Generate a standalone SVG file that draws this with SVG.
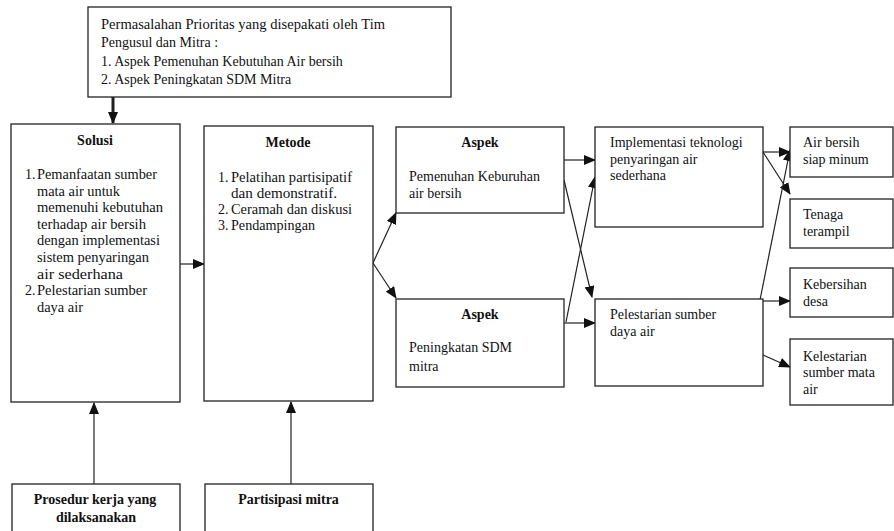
<svg xmlns="http://www.w3.org/2000/svg" width="894" height="531" viewBox="0 0 894 531">
<defs>
<style>
.box{fill:#fff;stroke:#222;stroke-width:1.3}
text{font-family:'Liberation Serif','DejaVu Serif',serif;font-size:14px;fill:#111}
.b{font-weight:bold}
.c{text-anchor:middle}
.ln{stroke:#222;stroke-width:1.2;fill:none}
</style>
<marker id="ah" markerUnits="userSpaceOnUse" markerWidth="12" markerHeight="10" refX="11" refY="5" orient="auto">
<path d="M0,0 L12,5 L0,10 Z" fill="#111"/>
</marker>
</defs>
<rect width="894" height="531" fill="#fff"/>

<g id="connectors">
<line class="ln" x1="113" y1="97" x2="113" y2="123" style="stroke-width:3" marker-end="url(#ah)"/>
<line class="ln" x1="180" y1="264" x2="204" y2="264" marker-end="url(#ah)"/>
<line class="ln" x1="373" y1="263" x2="396" y2="213" marker-end="url(#ah)"/>
<line class="ln" x1="373" y1="263" x2="396" y2="298" marker-end="url(#ah)"/>
<line class="ln" x1="564" y1="160" x2="595" y2="160" marker-end="url(#ah)"/>
<line class="ln" x1="564" y1="180" x2="592" y2="297" marker-end="url(#ah)"/>
<line class="ln" x1="566" y1="322" x2="595" y2="177" marker-end="url(#ah)"/>
<line class="ln" x1="564" y1="323" x2="595" y2="323" marker-end="url(#ah)"/>
<line class="ln" x1="763" y1="152" x2="790" y2="152" marker-end="url(#ah)"/>
<line class="ln" x1="763" y1="152" x2="790" y2="194" marker-end="url(#ah)"/>
<line class="ln" x1="760" y1="300" x2="790" y2="150" marker-end="url(#ah)"/>
<line class="ln" x1="763" y1="301" x2="790" y2="301" marker-end="url(#ah)"/>
<line class="ln" x1="763" y1="355" x2="790" y2="367" marker-end="url(#ah)"/>
<line class="ln" x1="94" y1="484" x2="94" y2="403" marker-end="url(#ah)"/>
<line class="ln" x1="291" y1="484" x2="291" y2="402" marker-end="url(#ah)"/>
</g>

<g id="masalah">
<rect class="box" x="88" y="7" width="363" height="90"/>
<text x="101" y="29" textLength="284" lengthAdjust="spacingAndGlyphs">Permasalahan Prioritas yang disepakati oleh Tim</text>
<text x="101" y="47">Pengusul dan Mitra :</text>
<text x="101" y="66">1. Aspek Pemenuhan Kebutuhan Air bersih</text>
<text x="101" y="84">2. Aspek Peningkatan SDM Mitra</text>
</g>

<g id="solusi">
<rect class="box" x="11" y="124" width="169" height="278"/>
<text class="b c" x="95" y="145">Solusi</text>
<text x="25" y="179">1.</text>
<text x="37" y="179" textLength="120" lengthAdjust="spacingAndGlyphs">Pemanfaatan sumber</text>
<text x="37" y="195.6" textLength="83" lengthAdjust="spacingAndGlyphs">mata air untuk</text>
<text x="37" y="212.2" textLength="126" lengthAdjust="spacingAndGlyphs">memenuhi kebutuhan</text>
<text x="37" y="228.8" textLength="109" lengthAdjust="spacingAndGlyphs">terhadap air bersih</text>
<text x="37" y="245.4" textLength="123" lengthAdjust="spacingAndGlyphs">dengan implementasi</text>
<text x="37" y="262" textLength="112" lengthAdjust="spacingAndGlyphs">sistem penyaringan</text>
<text x="37" y="278.6" textLength="86" lengthAdjust="spacingAndGlyphs">air sederhana</text>
<text x="25" y="295.2">2.</text>
<text x="37" y="295.2" textLength="110" lengthAdjust="spacingAndGlyphs">Pelestarian sumber</text>
<text x="37" y="311.8" textLength="46" lengthAdjust="spacingAndGlyphs">daya air</text>
</g>

<g id="metode">
<rect class="box" x="204" y="126" width="169" height="275"/>
<text class="b c" x="288" y="147">Metode</text>
<text x="218" y="182">1.</text>
<text x="231" y="182" textLength="121" lengthAdjust="spacingAndGlyphs">Pelatihan partisipatif</text>
<text x="231" y="198" textLength="106" lengthAdjust="spacingAndGlyphs">dan demonstratif.</text>
<text x="218" y="214">2.</text>
<text x="231" y="214" textLength="121" lengthAdjust="spacingAndGlyphs">Ceramah dan diskusi</text>
<text x="218" y="230">3.</text>
<text x="231" y="230" textLength="84" lengthAdjust="spacingAndGlyphs">Pendampingan</text>
</g>

<g id="aspek1">
<rect class="box" x="396" y="127" width="168" height="86"/>
<text class="b c" x="480" y="147">Aspek</text>
<text x="409" y="181">Pemenuhan Keburuhan</text>
<text x="409" y="198">air bersih</text>
</g>

<g id="aspek2">
<rect class="box" x="396" y="299" width="168" height="88"/>
<text class="b c" x="480" y="319">Aspek</text>
<text x="409" y="352">Peningkatan SDM</text>
<text x="409" y="371">mitra</text>
</g>

<g id="implementasi">
<rect class="box" x="595" y="127" width="168" height="100"/>
<text x="610" y="147">Implementasi teknologi</text>
<text x="610" y="164">penyaringan air</text>
<text x="610" y="180">sederhana</text>
</g>

<g id="pelestarian">
<rect class="box" x="595" y="299" width="168" height="87"/>
<text x="610" y="319">Pelestarian sumber</text>
<text x="610" y="336">daya air</text>
</g>

<g id="airbersih">
<rect class="box" x="790" y="127" width="103" height="50"/>
<text x="803" y="147">Air bersih</text>
<text x="803" y="164">siap minum</text>
</g>

<g id="tenaga">
<rect class="box" x="790" y="199" width="103" height="49"/>
<text x="803" y="219">Tenaga</text>
<text x="803" y="236">terampil</text>
</g>

<g id="kebersihan">
<rect class="box" x="790" y="268" width="103" height="49"/>
<text x="803" y="289">Kebersihan</text>
<text x="803" y="306">desa</text>
</g>

<g id="kelestarian">
<rect class="box" x="790" y="339" width="103" height="66"/>
<text x="803" y="361">Kelestarian</text>
<text x="803" y="377">sumber mata</text>
<text x="803" y="394">air</text>
</g>

<g id="prosedur">
<rect class="box" x="12" y="484" width="168" height="60"/>
<text class="b c" x="95" y="504">Prosedur kerja yang</text>
<text class="b c" x="96" y="522">dilaksanakan</text>
</g>

<g id="partisipasi">
<rect class="box" x="205" y="484" width="168" height="60"/>
<text class="b c" x="288.5" y="504">Partisipasi mitra</text>
</g>
</svg>
